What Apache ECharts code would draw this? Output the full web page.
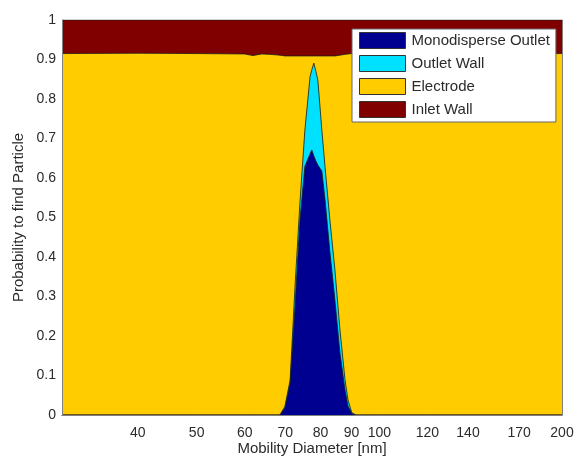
<!DOCTYPE html>
<html>
<head>
<meta charset="utf-8">
<script src="https://cdn.jsdelivr.net/npm/echarts@6/dist/echarts.min.js"></script>
<style>html,body{margin:0;padding:0;background:#fff;}#c{width:577px;height:457px;}</style>
</head>
<body>
<div id="c"></div>
<script>
// Mobility diameter samples [nm]
const diameters = [30, 40, 50, 60, 61.9, 64, 66, 68.6, 69.9, 71.3, 72.6, 74.0, 75.4, 76.9, 77.4, 78.0, 78.6, 79.2, 79.8, 80.4, 81.4, 82.9, 84.5, 86.1, 87.8, 88.8, 90.1, 91.5, 100, 120, 150, 200];
const monodisperseOutlet = [0, 0, 0, 0, 0, 0, 0, 0, 0.018, 0.081, 0.272, 0.494, 0.630, 0.661, 0.671, 0.656, 0.643, 0.633, 0.625, 0.618, 0.544, 0.413, 0.291, 0.159, 0.063, 0.023, 0.003, 0, 0, 0, 0, 0];
const outletWall = [0, 0, 0, 0, 0, 0, 0, 0, 0.004, 0.008, 0.050, 0.045, 0.092, 0.196, 0.203, 0.235, 0.227, 0.215, 0.160, 0.104, 0.083, 0.081, 0.076, 0.059, 0.026, 0.015, 0.003, 0, 0, 0, 0, 0];
const electrode = [0.915, 0.916, 0.915, 0.914, 0.910, 0.914, 0.913, 0.911, 0.887, 0.820, 0.587, 0.370, 0.187, 0.052, 0.035, 0.018, 0.039, 0.061, 0.124, 0.187, 0.282, 0.415, 0.542, 0.693, 0.824, 0.876, 0.909, 0.915, 0.915, 0.915, 0.915, 0.915];
const inletWall = [0.085, 0.084, 0.085, 0.086, 0.090, 0.086, 0.087, 0.089, 0.091, 0.091, 0.091, 0.091, 0.091, 0.091, 0.091, 0.091, 0.091, 0.091, 0.091, 0.091, 0.091, 0.091, 0.091, 0.089, 0.087, 0.086, 0.085, 0.085, 0.085, 0.085, 0.085, 0.085];
const xTickLabels = [40, 50, 60, 70, 80, 90, 100, 120, 140, 170, 200];
const seriesNames = ['Monodisperse Outlet', 'Outlet Wall', 'Electrode', 'Inlet Wall'];
const seriesColors = ['#000090', '#00E1FF', '#FFCC00', '#800000'];

const layers = [monodisperseOutlet, outletWall, electrode, inletWall];
const font = 'Liberation Sans, Arial, sans-serif';

// Stack the layers (bottom to top); each area is filled down to the axis and drawn
// top layer first so the lower layers sit in front of it.
const cumulative = [];
let running = diameters.map(() => 0);
layers.forEach((arr) => {
  running = running.map((v, j) => v + arr[j]);
  cumulative.push(running.slice());
});

const chart = echarts.init(document.getElementById('c'), null, {renderer: 'canvas'});
const series = [];
for (let i = layers.length - 1; i >= 0; i--) {
  series.push({
    name: seriesNames[i],
    type: 'line',
    symbol: 'none',
    smooth: false,
    data: diameters.map((d, j) => [d, cumulative[i][j]]),
    itemStyle: {color: seriesColors[i]},
    lineStyle: {color: '#1a1a1a', width: 0.8},
    areaStyle: {color: seriesColors[i], opacity: 1},
    emphasis: {disabled: true}
  });
}

chart.setOption({
  animation: false,
  backgroundColor: '#fff',
  grid: {left: 62, right: 15, top: 20, bottom: 42, containLabel: false, outerBoundsMode: 'none'},
  legend: {
    orient: 'vertical',
    left: 352, top: 29,
    backgroundColor: '#fff',
    borderColor: '#666',
    borderWidth: 1,
    padding: [3, 6, 4, 7],
    itemWidth: 46,
    itemHeight: 16,
    itemGap: 6,
    icon: 'rect',
    itemStyle: {borderColor: '#333', borderWidth: 1},
    textStyle: {fontFamily: font, fontSize: 15, color: '#2b2b2b', padding: [0, 0, 0, 1]},
    data: seriesNames
  },
  xAxis: [{
    type: 'log', logBase: 10, min: 30, max: 200,
    z: 5,
    axisLine: {show: true, lineStyle: {color: '#808080', width: 1}},
    axisTick: {show: false},
    splitLine: {show: false},
    axisLabel: {customValues: xTickLabels, fontFamily: font, fontSize: 14, color: '#2b2b2b', margin: 11},
    name: 'Mobility Diameter [nm]',
    nameLocation: 'middle',
    nameGap: 26,
    nameMoveOverlap: false,
    nameTextStyle: {fontFamily: font, fontSize: 15, color: '#2b2b2b'}
  }, {
    type: 'log', logBase: 10, min: 30, max: 200, position: 'top', z: 5,
    axisLine: {show: true, lineStyle: {color: '#808080', width: 1}},
    axisTick: {show: false}, axisLabel: {show: false}, splitLine: {show: false}
  }],
  yAxis: [{
    type: 'value', min: 0, max: 1, interval: 0.1,
    z: 5,
    axisLine: {show: true, lineStyle: {color: '#808080', width: 1}},
    axisTick: {show: false},
    splitLine: {show: false},
    axisLabel: {fontFamily: font, fontSize: 14, color: '#2b2b2b', margin: 6},
    name: 'Probability to find Particle',
    nameLocation: 'middle',
    nameGap: 36,
    nameMoveOverlap: false,
    nameTextStyle: {fontFamily: font, fontSize: 15, color: '#2b2b2b'}
  }, {
    type: 'value', min: 0, max: 1, position: 'right', z: 5,
    axisLine: {show: true, lineStyle: {color: '#808080', width: 1}},
    axisTick: {show: false}, axisLabel: {show: false}, splitLine: {show: false}
  }],
  series: series
});
</script>
</body>
</html>
